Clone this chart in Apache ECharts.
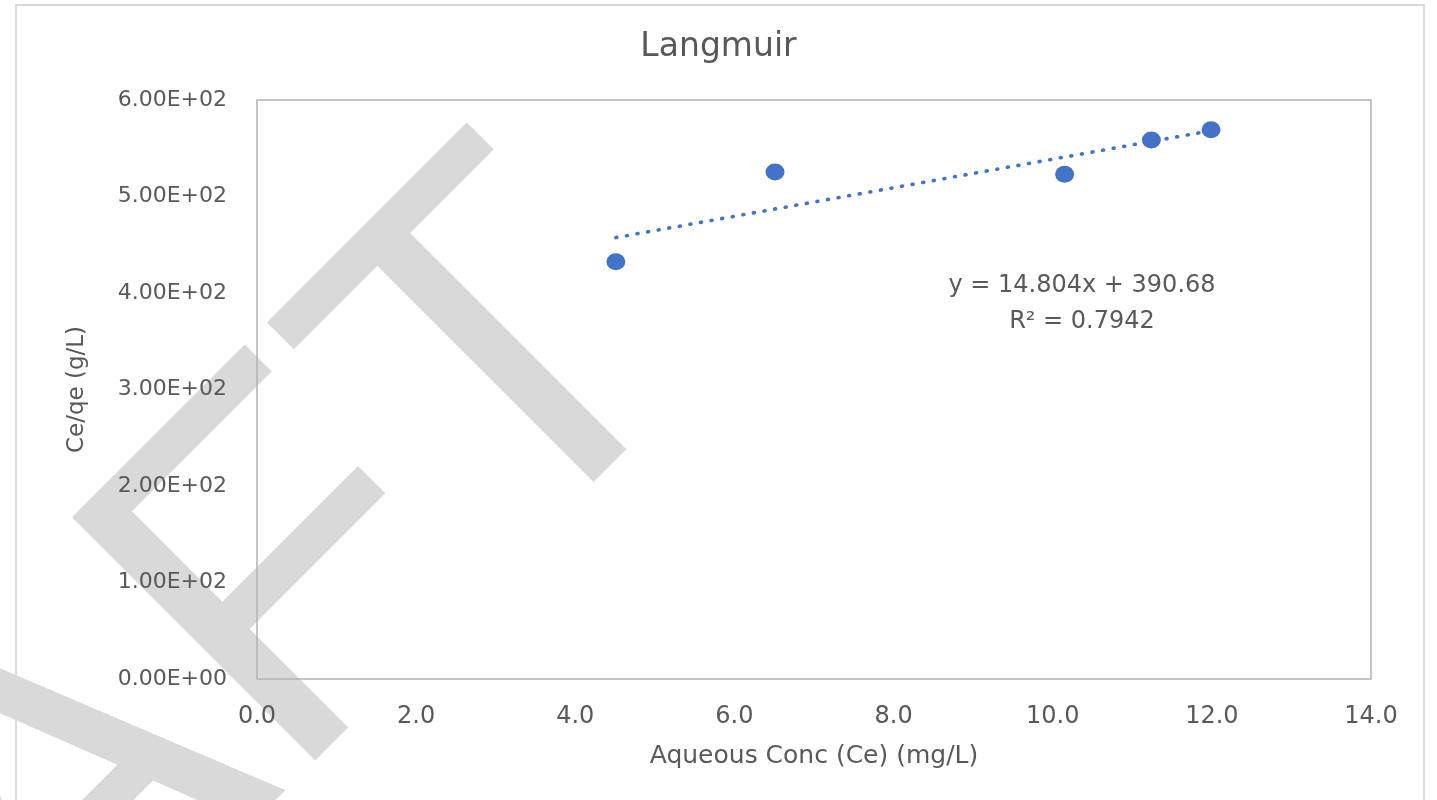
<!DOCTYPE html>
<html>
<head>
<meta charset="utf-8">
<title>Langmuir</title>
<script src="https://cdn.jsdelivr.net/npm/echarts@6/dist/echarts.min.js"></script>
<style>
  html, body { margin: 0; padding: 0; background: #ffffff; }
  #chart { width: 1437px; height: 800px; }
</style>
</head>
<body>
<div id="chart"></div>
<script>
// Aqueous concentration Ce (mg/L) and Ce/qe (g/L)
const ceValues = [4.51, 6.51, 10.15, 11.24, 11.99];
const ceQeValues = [432.4, 525.4, 523.0, 558.5, 569.2];

// Linear fit reported on the chart
const trendSlope = 14.804;
const trendIntercept = 390.68;
const rSquared = 0.7942;

// Axis ranges
const xRange = [0, 14, 2];
const yRange = [0, 600, 100];

const titleText = 'Langmuir';
const xName = 'Aqueous Conc (Ce) (mg/L)';
const yName = 'Ce/qe (g/L)';
const watermarkText = 'DRAFT';

const FONT = '"DejaVu Sans", sans-serif';
const TEXT_COLOR = '#595959';
const MARK_COLOR = '#4472C4';

// Excel-like scientific label: 5.00E+02
function sciLabel(v) {
  const parts = v.toExponential(2).split('e');
  const sign = parts[1][0];
  const exp = Math.abs(parseInt(parts[1], 10)).toString().padStart(2, '0');
  return parts[0] + 'E' + sign + exp;
}

const xMin = Math.min(...ceValues);
const xMax = Math.max(...ceValues);
const trendData = [xMin, xMax].map(x => [x, trendSlope * x + trendIntercept]);

const chart = echarts.init(document.getElementById('chart'));
chart.setOption({
  backgroundColor: '#ffffff',
  animation: false,
  title: {
    text: titleText,
    left: 'center',
    top: 31,
    padding: 0,
    textStyle: { fontFamily: FONT, fontSize: 33, fontWeight: 'normal', color: TEXT_COLOR }
  },
  grid: {
    left: 257, right: 66, top: 100, bottom: 121,
    show: true, borderColor: '#b3b3b3', borderWidth: 1.5, backgroundColor: 'transparent'
  },
  xAxis: {
    type: 'value',
    min: xRange[0], max: xRange[1], interval: xRange[2],
    name: xName,
    nameLocation: 'middle',
    nameGap: 65,
    nameTextStyle: { fontFamily: FONT, fontSize: 25, color: TEXT_COLOR },
    axisLine: { show: false },
    axisTick: { show: false },
    splitLine: { show: false },
    axisLabel: {
      margin: 26,
      fontFamily: FONT, fontSize: 24, color: TEXT_COLOR,
      formatter: v => v.toFixed(1)
    }
  },
  yAxis: {
    type: 'value',
    min: yRange[0], max: yRange[1], interval: yRange[2],
    name: yName,
    nameLocation: 'middle',
    nameGap: 168,
    nameTextStyle: { fontFamily: FONT, fontSize: 23, color: TEXT_COLOR },
    axisLine: { show: false },
    axisTick: { show: false },
    splitLine: { show: false },
    axisLabel: {
      margin: 30,
      fontFamily: FONT, fontSize: 22, color: TEXT_COLOR,
      formatter: sciLabel
    }
  },
  series: [
    {
      name: 'Linear fit',
      type: 'line',
      data: trendData,
      showSymbol: false,
      silent: true,
      z: 2,
      lineStyle: { color: MARK_COLOR, width: 3.6, type: [1, 9.75], cap: 'round', opacity: 1 }
    },
    {
      name: 'Ce/qe',
      type: 'scatter',
      data: ceValues.map((x, i) => [x, ceQeValues[i]]),
      symbol: 'circle',
      symbolSize: [19, 17],
      z: 3,
      itemStyle: { color: MARK_COLOR, opacity: 1 }
    }
  ],
  graphic: [
    {
      // diagonal watermark, anchored at the foot of the final letter
      type: 'group',
      x: 609.5,
      y: 465,
      rotation: Math.PI / 4,
      silent: true,
      z: -10,
      children: [{
        type: 'text',
        x: 152.75,
        y: -137,
        z: -10,
        style: {
          text: watermarkText,
          font: '500px "Liberation Sans"',
          fill: '#d9d9d9',
          align: 'right',
          verticalAlign: 'middle'
        }
      }]
    },
    {
      type: 'rect',
      silent: true,
      shape: { x: 16, y: 5, width: 1408, height: 830 },
      style: { fill: 'none', stroke: '#d9d9d9', lineWidth: 2 }
    },
    {
      type: 'text',
      x: 1082,
      y: 304,
      silent: true,
      style: {
        text: 'y = ' + trendSlope + 'x + ' + trendIntercept + '\nR² = ' + rSquared,
        fontFamily: FONT,
        fontSize: 24,
        lineHeight: 36,
        fill: TEXT_COLOR,
        align: 'center',
        verticalAlign: 'middle'
      }
    }
  ]
});
</script>
</body>
</html>
